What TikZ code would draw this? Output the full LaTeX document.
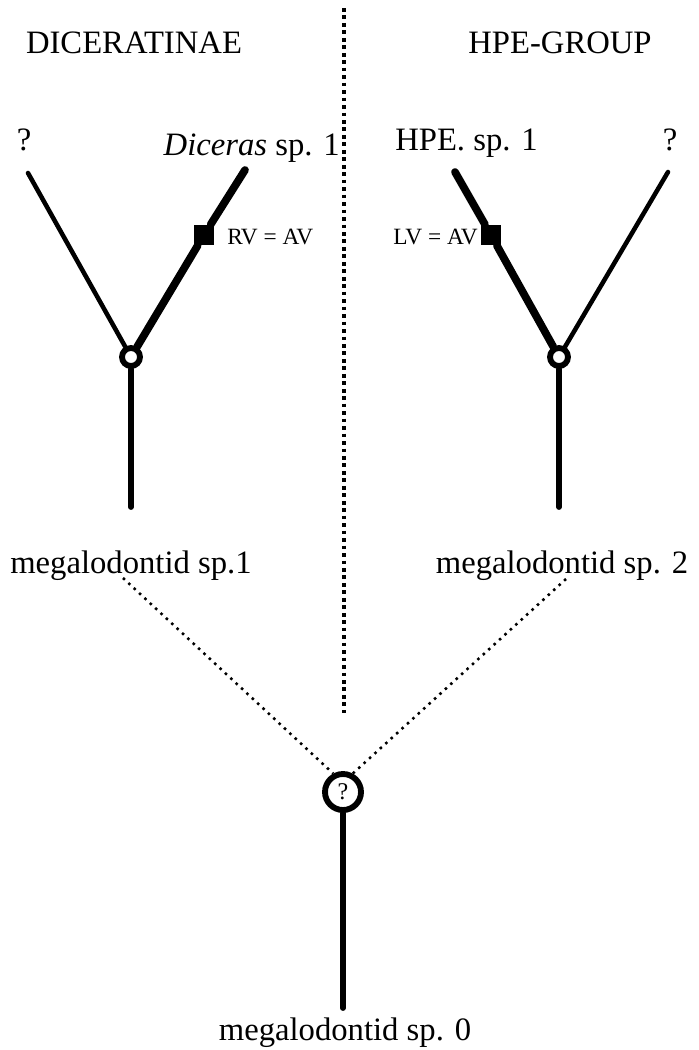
\documentclass[tikz,border=0pt]{standalone}
\usepackage{fontspec}
\setmainfont{Liberation Serif}
\tikzset{
    taxon-label/.style = {font=\fontsize{24.5}{28}\selectfont, inner sep=0pt, anchor=base},
    small-label/.style = {font=\fontsize{17.5}{20}\selectfont, inner sep=0pt, anchor=base west},
    junction-dot/.style = {draw, fill=white, circle, line width=4.4pt, minimum size=13.5pt, inner sep=0pt},
    root-dot/.style = {draw, fill=white, circle, line width=4.4pt, minimum size=27pt, inner sep=0pt, font=\fontsize{18}{20}\selectfont},
    apomorphy-box/.style = {fill=black, rectangle, minimum size=15.5pt, inner sep=0pt},
    thin-branch/.style = {line width=3.4pt, line cap=round},
    thick-branch/.style = {line width=5.8pt, line cap=round},
    stem-line/.style = {line width=4.4pt, line cap=round},
    divider-line/.style = {line width=2.8pt, dash pattern=on 2.8pt off 2.8pt},
    link-dotted/.style = {line width=1.9pt, dash pattern=on 1.9pt off 3.6pt},
}

\begin{document}
\begin{tikzpicture}[x=0.75pt, y=-0.75pt]
\useasboundingbox (0,0) rectangle (699,1050);
% headings
\node[taxon-label] (dicgroup) at (134,53) {DICERATINAE};
\node[taxon-label] (hpegroup) at (560,53) {HPE-GROUP};
% divider
\coordinate (divtop) at (344,8);
\coordinate (divbot) at (344,713);
\draw[divider-line] (divtop) -- (divbot);
% left tree
\node[taxon-label] (lq) at (24,150) {?};
\node[taxon-label, anchor=base east] (diceras) at (340,155) {\textit{Diceras} sp. 1};
\coordinate (tiplq) at (28,173);
\coordinate (tipdic) at (245,170);
\node[junction-dot] (jl) at (131,357) {};
\node[apomorphy-box] (sql) at (204,235) {};
\node[small-label] (rvav) at (227,244) {RV = AV};
\coordinate (bl) at (131,507);
\node[taxon-label] (meg1) at (131,573) {megalodontid sp.1};
\draw[thin-branch] (jl) -- (tiplq);
\draw[thick-branch] (jl) -- (sql);
\draw[thick-branch] (sql) -- (tipdic);
\draw[stem-line] (jl) -- (bl);
% right tree
\node[taxon-label, anchor=base west] (hpe) at (395,150) {HPE. sp. 1};
\node[taxon-label] (rq) at (670,150) {?};
\coordinate (tiphpe) at (455,172);
\coordinate (tiprq) at (668,172);
\node[junction-dot] (jr) at (559,357) {};
\node[apomorphy-box] (sqr) at (491,235) {};
\node[small-label] (lvav) at (393,244) {LV = AV};
\coordinate (br) at (559,507);
\node[taxon-label] (meg2) at (562,573) {megalodontid sp. 2};
\draw[thin-branch] (jr) -- (tiprq);
\draw[thick-branch] (jr) -- (sqr);
\draw[thick-branch] (sqr) -- (tiphpe);
\draw[stem-line] (jr) -- (br);
% common ancestor
\node[root-dot] (root) at (343,792) {?};
\coordinate (dl) at (123,578);
\coordinate (dr) at (566,579);
\coordinate (b0) at (343,1008);
\node[taxon-label] (meg0) at (345,1040) {megalodontid sp. 0};
\draw[link-dotted] (dl) -- (root.118);
\draw[link-dotted] (dr) -- (root.62);
\draw[stem-line] (root) -- (b0);
\end{tikzpicture}
\end{document}
